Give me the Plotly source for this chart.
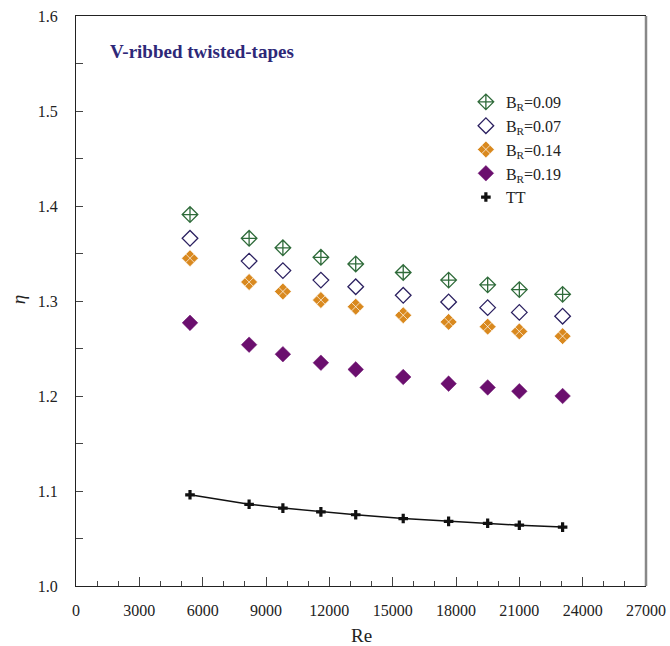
import plotly.graph_objects as go

re_vals = [5400, 8200, 9800, 11600, 13250, 15500, 17650, 19500, 21000, 23050]
br009 = [1.391, 1.366, 1.356, 1.346, 1.339, 1.330, 1.322, 1.317, 1.312, 1.307]
br007 = [1.366, 1.342, 1.332, 1.322, 1.315, 1.306, 1.299, 1.293, 1.288, 1.284]
br014 = [1.345, 1.320, 1.310, 1.301, 1.294, 1.285, 1.278, 1.273, 1.268, 1.263]
br019 = [1.277, 1.254, 1.244, 1.235, 1.228, 1.220, 1.213, 1.209, 1.205, 1.200]
tt = [1.096, 1.086, 1.082, 1.078, 1.075, 1.071, 1.068, 1.066, 1.064, 1.062]
x_ticks = [0, 3000, 6000, 9000, 12000, 15000, 18000, 21000, 24000, 27000]
y_ticks = [1.0, 1.1, 1.2, 1.3, 1.4, 1.5, 1.6]

font_fam = "Liberation Serif, Times New Roman, serif"

fig = go.Figure()
fig.add_trace(go.Scatter(x=re_vals, y=br009, mode="markers", name="B<sub>R</sub>=0.09",
                         marker=dict(symbol="diamond-cross-open", size=12, color="#2f6b3a",
                                     line=dict(color="#2f6b3a", width=1.3))))
fig.add_trace(go.Scatter(x=re_vals, y=br007, mode="markers", name="B<sub>R</sub>=0.07",
                         marker=dict(symbol="diamond-open", size=12, color="#2b2060",
                                     line=dict(color="#2b2060", width=1.3))))
fig.add_trace(go.Scatter(x=re_vals, y=br014, mode="markers", name="B<sub>R</sub>=0.14",
                         marker=dict(symbol="diamond-x", size=13, color="#d9891f",
                                     line=dict(color="white", width=0.7))))
fig.add_trace(go.Scatter(x=re_vals, y=br019, mode="markers", name="B<sub>R</sub>=0.19",
                         marker=dict(symbol="diamond", size=12, color="#6b0f6e",
                                     line=dict(color="#6b0f6e", width=0.5))))
fig.add_trace(go.Scatter(x=re_vals, y=tt, mode="lines", showlegend=False,
                         line=dict(color="#111111", width=1.5)))
fig.add_trace(go.Scatter(x=re_vals, y=tt, mode="markers", name="TT",
                         marker=dict(symbol="cross", size=8, color="#111111")))

fig.add_annotation(x=0.056, y=0.937, xref="paper", yref="paper", xanchor="left", yanchor="middle",
                   text="<b>V-ribbed twisted-tapes</b>", showarrow=False,
                   font=dict(family=font_fam, size=19, color="#2e2878"))

# axis titles
fig.add_annotation(x=0.5, y=-0.086, xref="paper", yref="paper", xanchor="center", yanchor="middle",
                   text="Re", showarrow=False, font=dict(family=font_fam, size=19, color="#222222"))
fig.add_annotation(x=-0.1018, y=0.503, xref="paper", yref="paper", xanchor="center", yanchor="middle",
                   text="<i>η</i>", showarrow=False, textangle=-90,
                   font=dict(family=font_fam, size=19, color="#222222"))

# grey right border
fig.add_shape(type="line", xref="paper", yref="paper", x0=1, x1=1, y0=0, y1=1,
              line=dict(color="#888888", width=2.5))

fig.update_layout(
    width=670, height=646,
    margin=dict(l=76, r=24, t=16, b=60, autoexpand=False),
    plot_bgcolor="white", paper_bgcolor="white",
    font=dict(family=font_fam, size=16, color="#222222"),
    showlegend=True,
    legend=dict(x=0.684, y=0.879, xanchor="left", yanchor="top",
                bgcolor="rgba(0,0,0,0)", font=dict(family=font_fam, size=16, color="#222222"),
                tracegroupgap=0, itemsizing="trace"),
    xaxis=dict(range=[0, 27000], tickvals=x_ticks, ticktext=[str(v) for v in x_ticks],
               showline=True, linecolor="#222222", linewidth=1.2, mirror=True,
               ticks="inside", ticklen=9, tickcolor="#444444", tickwidth=1,
               minor=dict(dtick=1000, ticks="inside", ticklen=5, tickcolor="#444444"),
               showgrid=False, zeroline=False, automargin=False,
               ticklabelstandoff=10, tickfont=dict(size=16)),
    yaxis=dict(range=[1.0, 1.6], tickvals=y_ticks,
               ticktext=["%.1f" % v for v in y_ticks],
               showline=True, linecolor="#222222", linewidth=1.2,
               ticks="inside", ticklen=7, tickcolor="#444444",
               minor=dict(dtick=0.05, ticks="inside", ticklen=7, tickcolor="#444444"),
               showgrid=False, zeroline=False, automargin=False,
               ticklabelstandoff=14, tickfont=dict(size=16)),
)

fig.write_html("out.html")
